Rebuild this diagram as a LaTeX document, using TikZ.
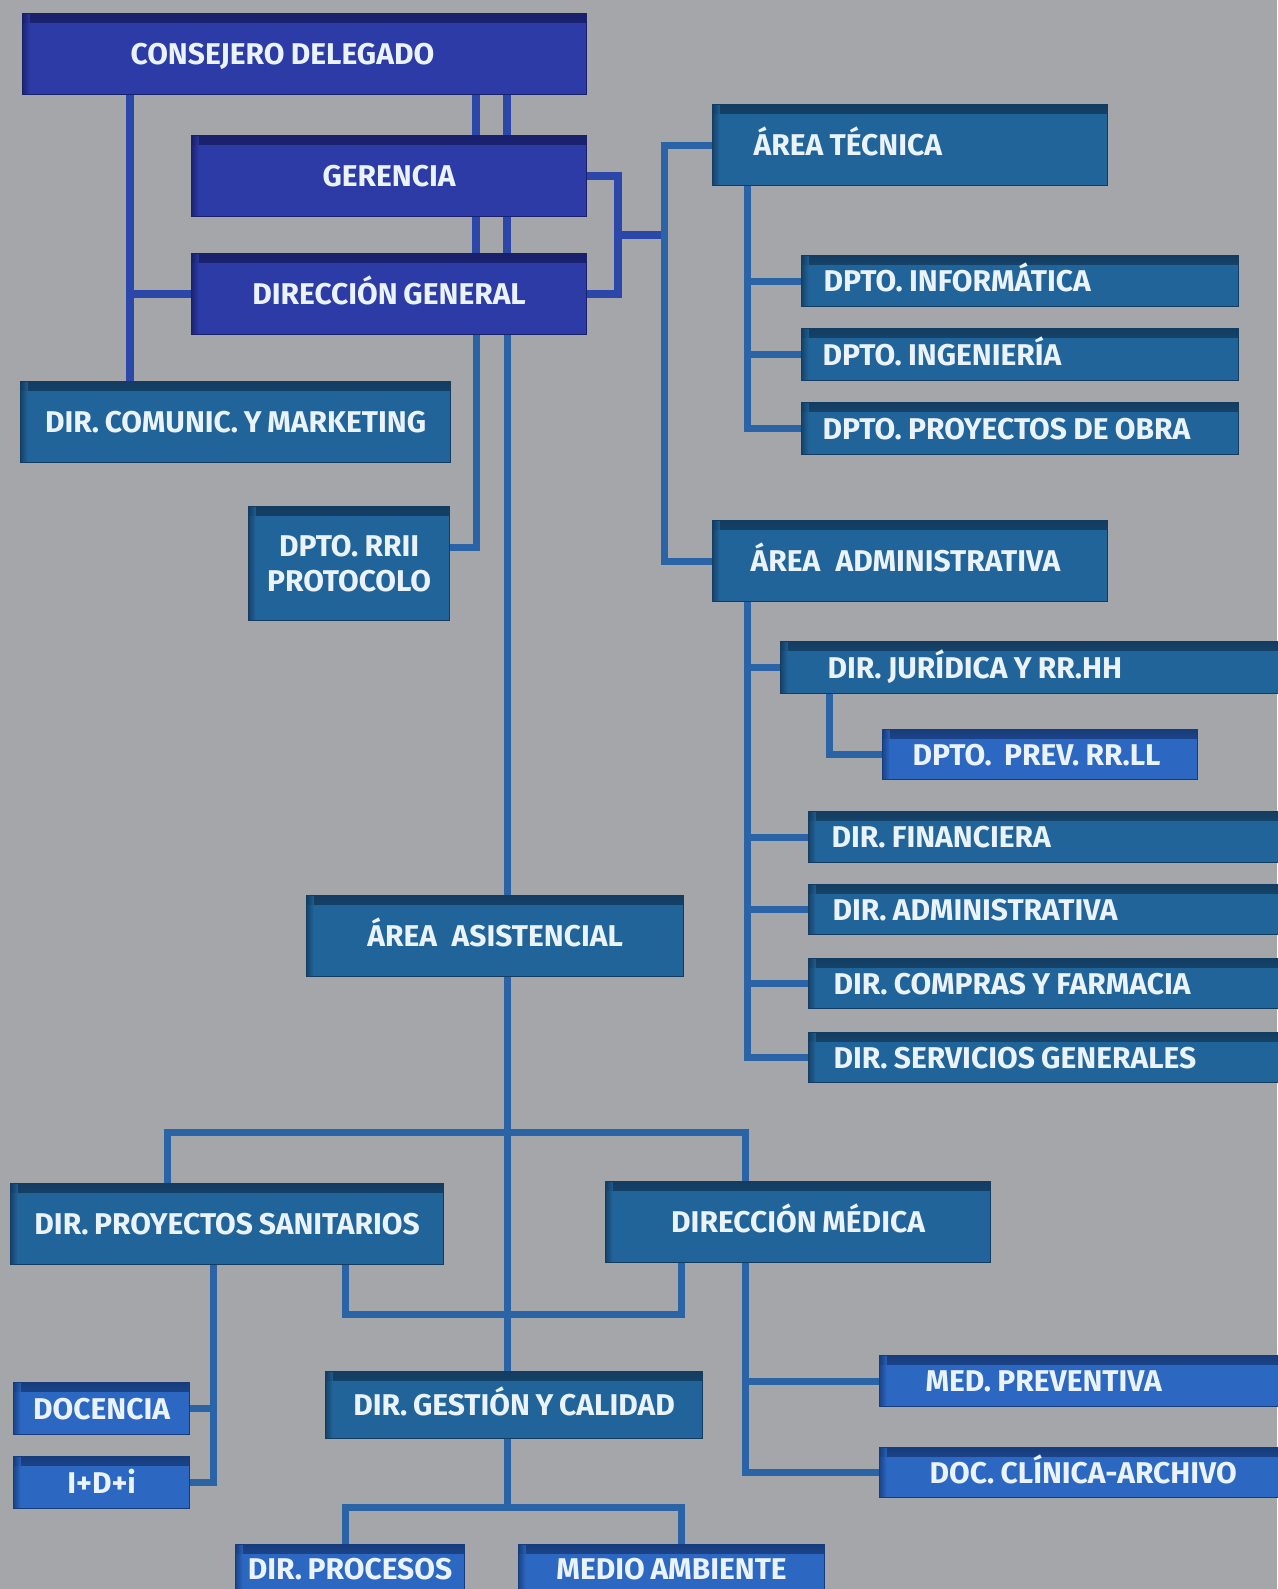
\documentclass[tikz,border=0pt]{standalone}
\usepackage{fontspec}
\newfontfamily\lbl{Fira Sans}[WordSpace=0.8]
\usetikzlibrary{calc}
\definecolor{cBg}{HTML}{A5A6A9}
\definecolor{cRoyal}{HTML}{2C3BA6}
\definecolor{cRoyalE}{HTML}{18206A}
\definecolor{cTeal}{HTML}{21649A}
\definecolor{cTealE}{HTML}{133C60}
\definecolor{cBright}{HTML}{2C68C2}
\definecolor{cBrightE}{HTML}{173C7C}
\definecolor{cLinkA}{HTML}{2C47AA}
\definecolor{cLinkB}{HTML}{2A63A6}
\definecolor{cTxt}{HTML}{EAF2FA}
\pgfdeclarelayer{bg}
\pgfdeclarelayer{lines}
\pgfsetlayers{bg,lines,main}
\tikzset{
  orgbox/.style 2 args={fill=#1, draw=#2, line width=1.2pt, text=cTxt,
    font=\lbl\bfseries\fontsize{30}{35}\selectfont,
    inner ysep=0pt, text height=21pt, text depth=0pt, anchor=north west,
    path picture={
      \shade[top color=#2, bottom color=#1]
        (path picture bounding box.north west) rectangle ([yshift=-9pt]path picture bounding box.north east);
      \shade[left color=#2, right color=#1, opacity=0.8]
        (path picture bounding box.north west) rectangle ([xshift=7pt]path picture bounding box.south west);
    }},
  bA/.style={orgbox={cRoyal}{cRoyalE}},
  bB/.style={orgbox={cTeal}{cTealE}},
  bC/.style={orgbox={cBright}{cBrightE}},
  lnA/.style={draw=cLinkA, line width=8pt},
  lnB/.style={draw=cLinkB, line width=7pt},
}
% centred box: style, name, x, y, w, h, text
\newcommand\cbox[7]{\node[#1, minimum width=#5pt, minimum height=#6pt] (#2) at (#3,#4) {#7};}
% left box: style, name, x, y, w, h, indent, text
\newcommand\lbox[8]{\node[#1, inner xsep=0pt, align=left, text width=#5pt, minimum width=#5pt, minimum height=#6pt] (#2) at (#3,#4) {\spaceskip=0.21em\relax\xspaceskip=0.21em\relax\hspace*{#7pt}#8};}
\begin{document}
\begin{tikzpicture}[x=1pt,y=-1pt]
\begin{pgfonlayer}{bg}
  \fill[cBg] (0,0) rectangle (1277,1589);
\end{pgfonlayer}
\useasboundingbox (0,0) rectangle (1277,1589);

% top management
\lbox{bA}{cons}{22}{13}{564}{81}{108}{CONSEJERO DELEGADO}
\cbox{bA}{ger}{191}{135}{395}{81}{GERENCIA}
\cbox{bA}{dg}{191}{253}{395}{81}{DIRECCIÓN GENERAL}
\cbox{bB}{dcm}{20}{381}{430}{81}{DIR. COMUNIC. Y MARKETING}
\node[bB, align=center, text height={}, text depth={}, minimum width=201pt, minimum height=114pt] (rrii) at (248,506) {\spaceskip=0.21em\relax DPTO. RRII\\PROTOCOLO};

% technical area
\lbox{bB}{tec}{712}{104}{395}{81}{41}{ÁREA TÉCNICA}
\lbox{bB}{inf}{801}{255}{437}{51}{22}{DPTO. INFORMÁTICA}
\lbox{bB}{ing}{801}{328}{437}{52}{21}{DPTO. INGENIERÍA}
\lbox{bB}{pro}{801}{402}{437}{52}{21}{DPTO. PROYECTOS DE OBRA}

% administrative area
\lbox{bB}{adm}{712}{520}{395}{81}{38}{ÁREA\hspace{0.3em} ADMINISTRATIVA}
\lbox{bB}{jur}{780}{641}{510}{52}{47}{DIR. JURÍDICA Y RR.HH}
\lbox{bC}{prev}{882}{729}{315}{50}{30}{DPTO.\hspace{0.2em} PREV. RR.LL}
\lbox{bB}{fin}{808}{811}{480}{51}{23}{DIR. FINANCIERA}
\lbox{bB}{adm2}{808}{884}{480}{50}{24}{DIR. ADMINISTRATIVA}
\lbox{bB}{com}{808}{958}{480}{50}{25}{DIR. COMPRAS Y FARMACIA}
\lbox{bB}{ser}{808}{1032}{480}{50}{25}{DIR. SERVICIOS GENERALES}

% care area
\cbox{bB}{asis}{306}{895}{377}{81}{ÁREA\hspace{0.3em} ASISTENCIAL}
\cbox{bB}{san}{10}{1183}{433}{81}{DIR. PROYECTOS SANITARIOS}
\cbox{bB}{med}{605}{1181}{385}{81}{DIRECCIÓN MÉDICA}
\lbox{bC}{mp}{879}{1355}{410}{51}{46}{MED. PREVENTIVA}
\lbox{bC}{dca}{879}{1447}{410}{50}{50}{DOC. CLÍNICA-ARCHIVO}
\cbox{bB}{ges}{325}{1371}{377}{67}{DIR. GESTIÓN Y CALIDAD}
\cbox{bC}{doc}{13}{1382}{176}{52}{DOCENCIA}
\cbox{bC}{idi}{13}{1456}{176}{52}{I+D+i}
\cbox{bC}{proc}{235}{1544}{229}{48}{DIR. PROCESOS}
\cbox{bC}{amb}{518}{1544}{306}{48}{MEDIO AMBIENTE}

% guide coordinates
\coordinate (xL) at (130,0);
\coordinate (x1) at (476,0);
\coordinate (x2) at (507,0);
\coordinate (xB) at (618,0);
\coordinate (xC) at (664,0);
\coordinate (xD) at (747,0);
\coordinate (xE) at (829,0);
\coordinate (xF) at (167,0);
\coordinate (xG) at (745,0);
\coordinate (xI) at (345,0);
\coordinate (xJ) at (681,0);
\coordinate (xM) at (213,0);
\coordinate (yR) at (0,547);
\coordinate (yH) at (0,1132);
\coordinate (yK) at (0,1314);
\coordinate (yL) at (0,1507);
\coordinate (gmid) at ($(ger.east)!0.5!(dg.east)$);

\begin{pgfonlayer}{lines}
  % top
  \draw[lnA] (xL |- cons.south) -- (xL |- dcm.north);
  \draw[lnA] (xL |- dg.west) -- (dg.west);
  \draw[lnA] (x1 |- cons.south) -- (x1 |- ger.north);
  \draw[lnA] (x2 |- cons.south) -- (x2 |- ger.north);
  \draw[lnA] (x1 |- ger.south) -- (x1 |- dg.north);
  \draw[lnA] (x2 |- ger.south) -- (x2 |- dg.north);
  \draw[lnA] (ger.east) -- (xB |- ger.east) -- (xB |- dg.east) -- (dg.east);
  \draw[lnA] (xB |- gmid) -- (xC |- gmid);
  \draw[lnB] (x1 |- dg.south) -- (x1 |- yR) -- (rrii.east |- yR);
  \draw[lnB] (x2 |- dg.south) -- (x2 |- asis.north);
  % areas
  \draw[lnB] (tec.west) -- (xC |- tec.west) -- (xC |- adm.west) -- (adm.west);
  \draw[lnB] (xD |- tec.south) |- (inf.west);
  \draw[lnB] (xD |- tec.south) |- (ing.west);
  \draw[lnB] (xD |- tec.south) |- (pro.west);
  \draw[lnB] (xD |- adm.south) |- (jur.west);
  \draw[lnB] (xD |- adm.south) |- (fin.west);
  \draw[lnB] (xD |- adm.south) |- (adm2.west);
  \draw[lnB] (xD |- adm.south) |- (com.west);
  \draw[lnB] (xD |- adm.south) |- (ser.west);
  \draw[lnB] (xE |- jur.south) |- (prev.west);
  % care area
  \draw[lnB] (x2 |- asis.south) -- (x2 |- ges.north);
  \draw[lnB] (xF |- san.north) -- (xF |- yH) -- (xG |- yH) -- (xG |- med.north);
  \draw[lnB] (xI |- san.south) -- (xI |- yK) -- (xJ |- yK) -- (xJ |- med.south);
  \draw[lnB] (xM |- san.south) |- (doc.east);
  \draw[lnB] (xM |- san.south) |- (idi.east);
  \draw[lnB] (xG |- med.south) |- (mp.west);
  \draw[lnB] (xG |- med.south) |- (dca.west);
  \draw[lnB] (x2 |- ges.south) -- (x2 |- yL);
  \draw[lnB] (xI |- proc.north) -- (xI |- yL) -- (xJ |- yL) -- (xJ |- amb.north);
\end{pgfonlayer}
\end{tikzpicture}
\end{document}
